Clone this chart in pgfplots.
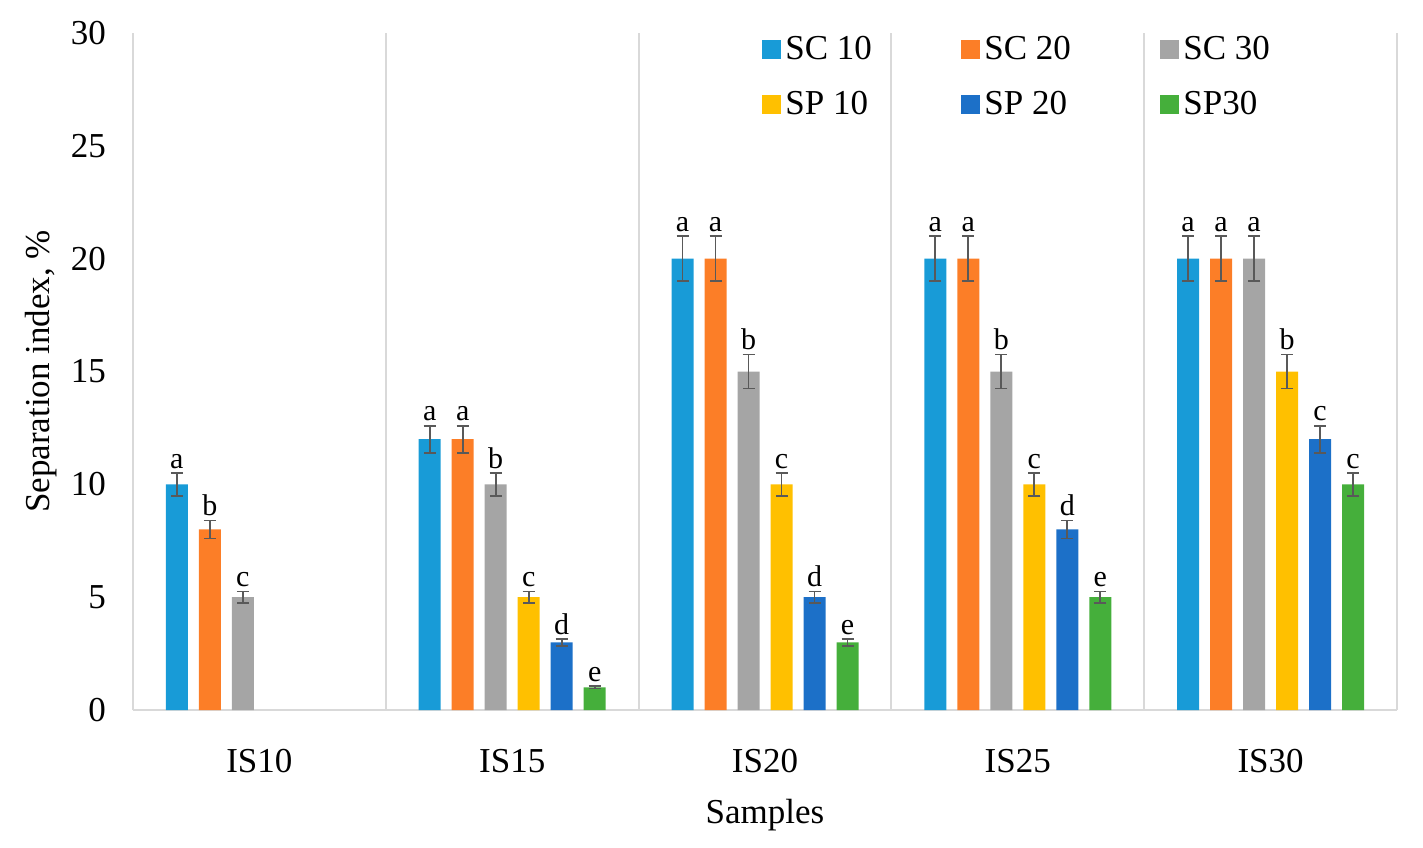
\documentclass[border=0pt]{standalone}
\usepackage{fontspec}
\setmainfont{Liberation Serif}
\usepackage{pgfplots}
\usepackage{pgfplotstable}
\pgfplotsset{compat=1.18}

\definecolor{c1}{HTML}{189BD7}
\definecolor{c2}{HTML}{FC7E27}
\definecolor{c3}{HTML}{A5A5A5}
\definecolor{c4}{HTML}{FFC000}
\definecolor{c5}{HTML}{1C70C8}
\definecolor{c6}{HTML}{45AF3B}
\definecolor{errc}{HTML}{595959}
\definecolor{gridc}{HTML}{D9D9D9}

\pgfplotstableread{
x y e lab
0 10 0.5 a
1 12 0.6 a
2 20 1.0 a
3 20 1.0 a
4 20 1.0 a
}\scten
\pgfplotstableread{
x y e lab
0 8 0.4 b
1 12 0.6 a
2 20 1.0 a
3 20 1.0 a
4 20 1.0 a
}\sctwenty
\pgfplotstableread{
x y e lab
0 5 0.25 c
1 10 0.5 b
2 15 0.75 b
3 15 0.75 b
4 20 1.0 a
}\scthirty
\pgfplotstableread{
x y e lab
1 5 0.25 c
2 10 0.5 c
3 10 0.5 c
4 15 0.75 b
}\spten
\pgfplotstableread{
x y e lab
1 3 0.15 d
2 5 0.25 d
3 8 0.4 d
4 12 0.6 c
}\sptwenty
\pgfplotstableread{
x y e lab
1 1 0.05 e
2 3 0.15 e
3 5 0.25 e
4 10 0.5 c
}\spthirty

\pgfplotsset{
  errb/.style={
    error bars/y dir=both,
    error bars/y explicit,
    error bars/error bar style={draw=errc, line width=0.9pt},
    error bars/error mark options={rotate=90, draw=errc, mark size=3pt, line width=0.9pt},
  },
  sq/.style={legend image code/.code={\fill[##1,draw=none] (0pt,-4.75pt) rectangle (9.5pt,4.75pt);}},
}

\begin{document}
\begin{tikzpicture}[font=\fontsize{17.5}{21}\selectfont]
\useasboundingbox (-66.5pt,-68.5pt) rectangle (645pt,355pt);
\begin{axis}[
  scale only axis,
  width=632pt, height=338.5pt,
  ybar=5.5pt, bar width=11pt,
  xmin=-0.5, xmax=4.5, ymin=0, ymax=30,
  xtick={0,1,2,3,4},
  xticklabels={IS10,IS15,IS20,IS25,IS30},
  ytick={0,5,...,30},
  minor xtick={-0.5,0.5,...,4.5},
  xminorgrids=true,
  minor grid style={draw=gridc, line width=1pt},
  major tick length=0pt, minor tick length=0pt,
  axis x line*=bottom, axis y line*=left,
  x axis line style={draw=gridc, line width=1pt},
  y axis line style={draw=none},
  /pgf/number format/assume math mode=true,
  yticklabel style={xshift=-10pt},
  xticklabel style={yshift=-16pt},
  xlabel={Samples},
  ylabel={Separation index, \%},
  xlabel style={at={(axis description cs:0.5,0)}, anchor=base, yshift=-56.5pt},
  ylabel style={at={(axis description cs:-0.0657,0.5)}, anchor=base, rotate=0},
  nodes near coords,
  point meta=explicit symbolic,
  visualization depends on={\thisrow{e}\as\err},
  every node near coord/.append style={yshift=\err*11.2833pt, font=\fontsize{15}{18}\selectfont, inner sep=2pt, text=black},
  legend columns=3,
  legend style={at={(0.4976,1.0017)}, anchor=north west, draw=none, fill=none, inner sep=0pt,
    row sep=10.5pt,
    /tikz/every even column/.append style={column sep=45pt}},
]
\addplot[fill=c1, draw=none, errb, sq] table[x=x, y=y, y error=e, meta=lab] {\scten};
\addlegendentry{\makebox[41pt][l]{SC 10}}
\addplot[fill=c2, draw=none, errb, sq] table[x=x, y=y, y error=e, meta=lab] {\sctwenty};
\addlegendentry{\makebox[41pt][l]{SC 20}}
\addplot[fill=c3, draw=none, errb, sq] table[x=x, y=y, y error=e, meta=lab] {\scthirty};
\addlegendentry{\makebox[41pt][l]{SC 30}}
\addplot[fill=c4, draw=none, errb, sq] table[x=x, y=y, y error=e, meta=lab] {\spten};
\addlegendentry{\makebox[41pt][l]{SP 10}}
\addplot[fill=c5, draw=none, errb, sq] table[x=x, y=y, y error=e, meta=lab] {\sptwenty};
\addlegendentry{\makebox[41pt][l]{SP 20}}
\addplot[fill=c6, draw=none, errb, sq] table[x=x, y=y, y error=e, meta=lab] {\spthirty};
\addlegendentry{\makebox[41pt][l]{SP30}}
\end{axis}
\end{tikzpicture}
\end{document}
